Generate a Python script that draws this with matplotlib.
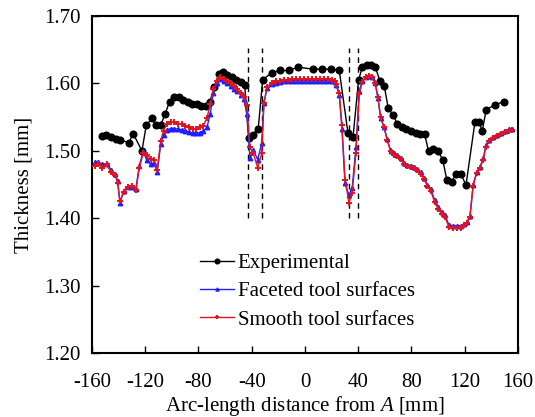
import numpy as np
import matplotlib
matplotlib.use("Agg")
import matplotlib.pyplot as plt

plt.rcParams['font.family'] = ['Liberation Serif', 'DejaVu Serif']
plt.rcParams['mathtext.fontset'] = 'custom'
plt.rcParams['mathtext.rm'] = 'Liberation Serif'
plt.rcParams['mathtext.it'] = 'Liberation Serif:italic'
plt.rcParams['axes.unicode_minus'] = False

# experimental thickness
x_exp = [-152.7, -149.7, -145.8, -142.2, -138.8, -132.5, -129.0, -122.5, -119.2, -115.0,
         -111.7, -108.4, -105.0, -101.7, -98.2, -94.9, -91.4, -88.1, -84.7, -81.1,
         -77.9, -74.6, -71.4, -68.1, -64.4, -61.6, -58.4, -54.8, -51.6, -48.3,
         -45.3, -42.1, -39.1, -35.1, -31.8, -25.0, -18.6, -11.8, -5.5, 6.2,
         12.8, 19.3, 25.8, 32.3, 36.1, 40.3, 43.1, 46.4, 49.6, 52.8,
         56.3, 59.6, 62.6, 66.3, 69.3, 72.7, 76.1, 79.6, 83.2, 86.6,
         89.9, 92.9, 96.4, 99.9, 103.5, 106.7, 110.2, 113.4, 117.4, 121.0,
         127.7, 131.0, 133.2, 136.2, 142.7, 149.5]
t_exp = [1.522, 1.523, 1.520, 1.517, 1.516, 1.512, 1.525, 1.500, 1.538, 1.548,
         1.538, 1.538, 1.555, 1.573, 1.579, 1.579, 1.576, 1.573, 1.570, 1.570,
         1.567, 1.567, 1.573, 1.595, 1.614, 1.617, 1.613, 1.609, 1.605, 1.602,
         1.597, 1.519, 1.524, 1.533, 1.605, 1.616, 1.619, 1.619, 1.624, 1.621,
         1.621, 1.621, 1.619, 1.527, 1.520, 1.605, 1.624, 1.627, 1.627, 1.624,
         1.604, 1.596, 1.563, 1.553, 1.540, 1.535, 1.533, 1.530, 1.527, 1.525,
         1.525, 1.499, 1.502, 1.500, 1.487, 1.456, 1.453, 1.466, 1.465, 1.449,
         1.542, 1.542, 1.529, 1.561, 1.568, 1.573]

# simulated thickness (both meshes)
x_sim = [-158.0, -155.3, -152.3, -149.0, -145.8, -142.7, -140.7, -139.0, -136.2, -133.0,
         -129.8, -127.0, -124.5, -121.5, -118.9, -115.9, -113.4, -111.0, -108.4, -106.2,
         -103.5, -100.9, -98.2, -95.4, -92.6, -89.9, -87.2, -84.4, -81.7, -78.9,
         -76.4, -73.6, -71.1, -68.9, -66.1, -63.6, -61.1, -58.4, -55.8, -53.3,
         -50.9, -48.3, -45.8, -43.8, -41.3, -38.8, -35.5, -32.5, -30.8, -28.5,
         -25.0, -21.8, -18.8, -16.0, -13.0, -10.0, -7.0, -4.0, -1.0, 2.0,
         5.0, 8.0, 11.0, 14.0, 17.0, 20.0, 22.5, 23.3, 25.8, 27.8,
         30.1, 33.1, 35.5, 38.3, 40.8, 43.1, 45.6, 48.1, 50.3, 52.8,
         54.8, 56.9, 59.4, 61.8, 64.4, 66.6, 69.3, 71.9, 74.4, 76.9,
         79.6, 82.1, 84.4, 86.9, 89.6, 91.9, 94.7, 97.4, 100.2, 102.7,
         105.2, 108.2, 111.0, 114.0, 117.0, 119.7, 121.5, 124.0, 126.4, 129.0,
         131.5, 134.0, 136.0, 138.5, 141.0, 144.0, 147.0, 150.3, 153.3, 155.5]
t_smooth = [1.478, 1.481, 1.474, 1.480, 1.468, 1.464, 1.452, 1.425, 1.439, 1.447,
            1.448, 1.442, 1.474, 1.497, 1.494, 1.488, 1.486, 1.472, 1.515, 1.530,
            1.540, 1.542, 1.542, 1.540, 1.539, 1.537, 1.535, 1.533, 1.533, 1.535,
            1.537, 1.549, 1.569, 1.591, 1.603, 1.609, 1.607, 1.604, 1.600, 1.596,
            1.591, 1.586, 1.579, 1.568, 1.506, 1.496, 1.475, 1.496, 1.571, 1.594,
            1.601, 1.603, 1.604, 1.605, 1.605, 1.606, 1.606, 1.606, 1.606, 1.606,
            1.606, 1.606, 1.606, 1.606, 1.606, 1.605, 1.604, 1.599, 1.585, 1.538,
            1.457, 1.423, 1.438, 1.496, 1.584, 1.602, 1.609, 1.611, 1.610, 1.601,
            1.580, 1.550, 1.535, 1.516, 1.499, 1.494, 1.492, 1.488, 1.480, 1.477,
            1.476, 1.474, 1.471, 1.466, 1.458, 1.448, 1.440, 1.424, 1.414, 1.406,
            1.402, 1.387, 1.386, 1.386, 1.386, 1.390, 1.393, 1.402, 1.448, 1.467,
            1.474, 1.487, 1.506, 1.514, 1.519, 1.522, 1.525, 1.528, 1.530, 1.531]
t_faceted = [1.483, 1.483, 1.480, 1.481, 1.472, 1.466, 1.455, 1.422, 1.441, 1.447,
             1.447, 1.444, 1.478, 1.499, 1.486, 1.480, 1.482, 1.468, 1.510, 1.524,
             1.531, 1.533, 1.533, 1.532, 1.531, 1.530, 1.528, 1.526, 1.526, 1.527,
             1.529, 1.535, 1.555, 1.585, 1.600, 1.606, 1.604, 1.600, 1.596, 1.592,
             1.588, 1.583, 1.577, 1.555, 1.489, 1.501, 1.487, 1.511, 1.571, 1.593,
             1.599, 1.601, 1.602, 1.603, 1.603, 1.604, 1.604, 1.604, 1.604, 1.604,
             1.604, 1.604, 1.604, 1.604, 1.604, 1.603, 1.602, 1.598, 1.583, 1.532,
             1.452, 1.434, 1.445, 1.505, 1.588, 1.603, 1.609, 1.611, 1.609, 1.600,
             1.578, 1.548, 1.535, 1.517, 1.500, 1.496, 1.494, 1.490, 1.482, 1.479,
             1.478, 1.476, 1.473, 1.468, 1.460, 1.450, 1.443, 1.427, 1.417, 1.409,
             1.405, 1.390, 1.389, 1.389, 1.389, 1.392, 1.394, 1.403, 1.450, 1.468,
             1.476, 1.489, 1.508, 1.516, 1.521, 1.524, 1.527, 1.530, 1.532, 1.533]

# dashed guide lines
x_guides = [-43.0, -32.5, 33.0, 40.0]
guide_lo, guide_hi = 1.40, 1.652

fig = plt.figure(figsize=(5.35, 4.17), dpi=100)
ax = fig.add_axes([0.172, 0.153, 0.796, 0.809])

for xg in x_guides:
    ax.plot([xg, xg], [guide_lo, guide_hi], color='black', linestyle=(0, (4, 3)),
            linewidth=1.0, zorder=1)

ax.plot(x_exp, t_exp, color='black', marker='o', markersize=4.8, linewidth=1.0,
        label='Experimental', zorder=3)
ax.plot(x_sim, t_faceted, color='#1f1fff', marker='^', markersize=3.2, linewidth=1.0,
        label='Faceted tool surfaces', zorder=4)
ax.plot(x_sim, t_smooth, color='#e0141e', marker='+', markersize=4, markeredgewidth=1.4,
        linewidth=1.0, label='Smooth tool surfaces', zorder=5)

ax.set_xlim(-160, 160)
ax.set_ylim(1.20, 1.70)
ax.set_xticks(np.arange(-160, 161, 40))
ax.set_yticks(np.arange(1.20, 1.701, 0.10))
ax.set_yticklabels(['%.2f' % v for v in np.arange(1.20, 1.701, 0.10)])
ax.tick_params(direction='in', length=5, width=1.0, labelsize=15,
               top=False, right=False)
ax.tick_params(axis='x', pad=14)
ax.tick_params(axis='y', pad=8)
for s in ax.spines.values():
    s.set_linewidth(1.5)

ax.set_xlabel('Arc-length distance from $A$ [mm]', fontsize=15, labelpad=2)
ax.set_ylabel('Thickness [mm]', fontsize=15, labelpad=8)

ax.legend(loc='upper left', bbox_to_anchor=(0.254, 0.296), frameon=False, fontsize=15,
          borderpad=0, borderaxespad=0, handlelength=1.6, handletextpad=0.2,
          labelspacing=0.42, markerscale=0.7)

fig.savefig('out.png', dpi=100)
